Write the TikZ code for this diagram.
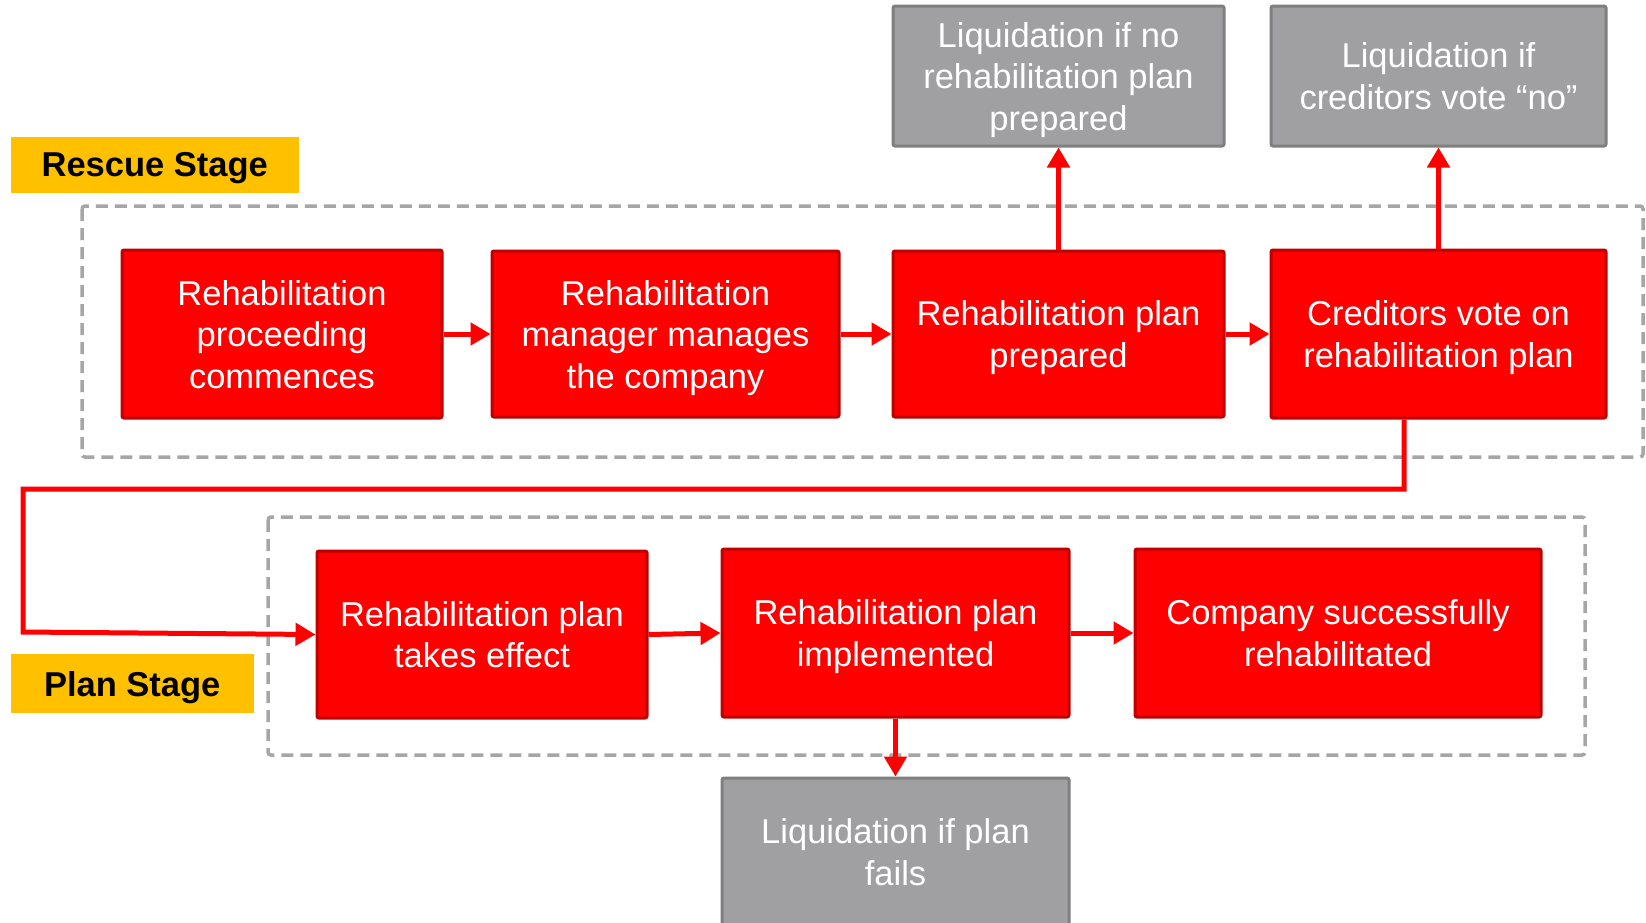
\documentclass[tikz,border=0pt]{standalone}
\usepackage{fontspec}
\setmainfont{Liberation Sans}
\usetikzlibrary{arrows.meta}
\definecolor{boxred}{HTML}{FF0000}
\definecolor{boxredline}{HTML}{C00000}
\definecolor{outgray}{HTML}{A0A0A2}
\definecolor{outgrayline}{HTML}{7F7F7F}
\definecolor{stagegold}{HTML}{FFC000}
\definecolor{dashgray}{HTML}{A6A6A6}
\tikzset{
  base/.style={inner sep=0pt, align=center, text depth=0pt, font=\fontsize{34.5}{41.5}\selectfont},
  redbox/.style={base, fill=boxred, draw=boxredline, line width=3pt, rounded corners=2pt, text=white},
  graybox/.style={base, fill=outgray, draw=outgrayline, line width=3pt, rounded corners=2pt, text=white},
  stagelabel/.style={inner sep=0pt, text depth=0pt, fill=stagegold, text=black, font=\fontsize{34.5}{40}\selectfont\bfseries},
  stagebox/.style={draw=dashgray, line width=3.5pt, dash pattern=on 12pt off 7pt, rounded corners=3pt},
  conn/.style={draw=boxred, line width=5pt, -{Triangle[length=20pt,width=22pt]}}
}
\begin{document}
\begin{tikzpicture}[x=1pt,y=-1pt]
  \clip (0,0) rectangle (1646,922);
  \fill[white] (0,0) rectangle (1646,922);

  % stage frames
  \draw[stagebox] (82,206) rectangle (1643,457);
  \draw[stagebox] (268,517) rectangle (1585,755);

  % stage labels
  \node[stagelabel, minimum width=288.5pt, minimum height=56.5pt] (rescue) at (154.75,164.75) {Rescue Stage};
  \node[stagelabel, minimum width=243.5pt, minimum height=59pt] (planlbl) at (132.25,683.5) {Plan Stage};

  % rescue stage steps
  \node[redbox, minimum width=320pt, minimum height=168pt] (A) at (282,334) {Rehabilitation\\proceeding\\commences};
  \node[redbox, minimum width=347pt, minimum height=166pt] (B) at (665.5,334) {Rehabilitation\\manager manages\\the company};
  \node[redbox, minimum width=331pt, minimum height=166pt] (C) at (1058.5,334) {Rehabilitation plan\\prepared};
  \node[redbox, minimum width=335pt, minimum height=168pt] (D) at (1438.5,334) {Creditors vote on\\rehabilitation plan};

  % liquidation outcomes
  \node[graybox, minimum width=331pt, minimum height=140pt] (L1) at (1058.5,76) {Liquidation if no\\rehabilitation plan\\prepared};
  \node[graybox, minimum width=335pt, minimum height=140pt] (L2) at (1438.5,76) {Liquidation if\\creditors vote “no”};

  % plan stage steps
  \node[redbox, minimum width=330pt, minimum height=167pt] (E) at (482,634.5) {Rehabilitation plan\\takes effect};
  \node[redbox, minimum width=347pt, minimum height=168pt] (F) at (895.5,633) {Rehabilitation plan\\implemented};
  \node[redbox, minimum width=406pt, minimum height=168pt] (G) at (1338,633) {Company successfully\\rehabilitated};
  \node[graybox, minimum width=347pt, minimum height=148pt] (L3) at (895.5,852) {Liquidation if plan\\fails};

  % connectors
  \draw[conn] (A.east) -- (B.west);
  \draw[conn] (B.east) -- (C.west);
  \draw[conn] (C.east) -- (D.west);
  \draw[conn] (C.north) -- (L1.south);
  \draw[conn] (D.north) -- (L2.south);
  \draw[conn] (E.east) -- (F.west);
  \draw[conn] (F.east) -- (G.west);
  \draw[conn] (F.south) -- (L3.north);

  \coordinate (t1) at (1404,489);
  \coordinate (t2) at (23,489);
  \coordinate (t3) at (23,632);
  \draw[conn, line join=miter] (D.south -| t1) -- (t1) -- (t2) -- (t3) -- (E.west);
\end{tikzpicture}
\end{document}
